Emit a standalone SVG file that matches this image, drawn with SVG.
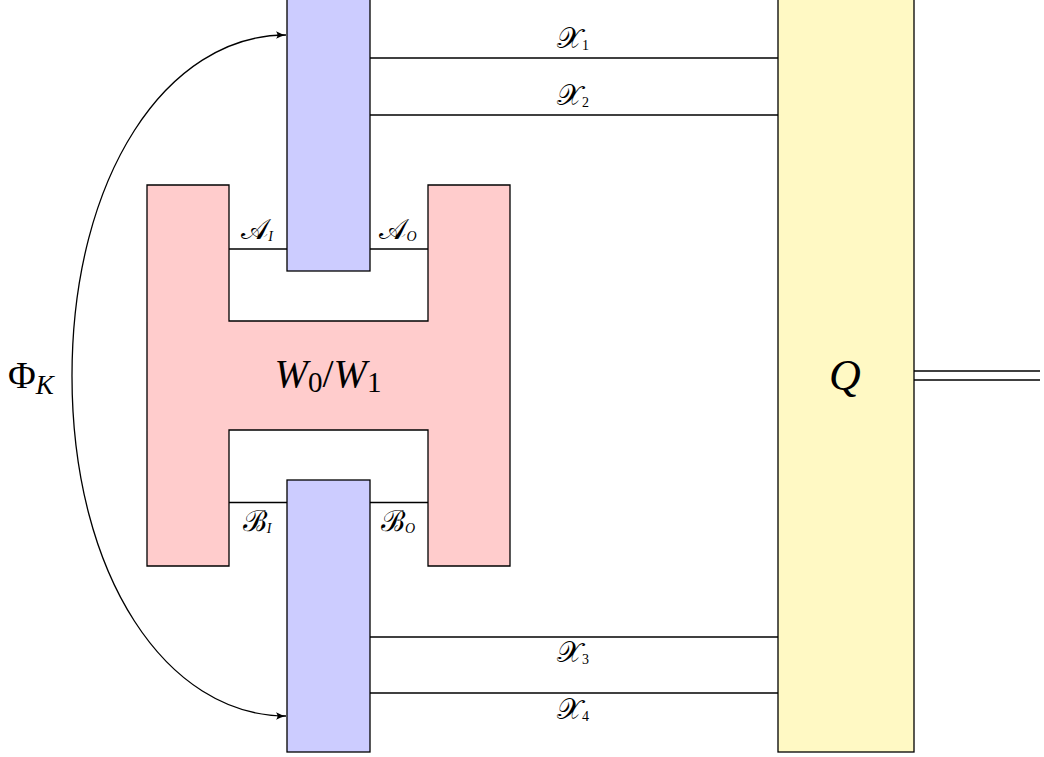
<svg xmlns="http://www.w3.org/2000/svg" width="1044" height="757" viewBox="0 0 1044 757">
<style>
.box{stroke:#000;stroke-width:1.3}
.ln{stroke:#000;stroke-width:1.3;fill:none}
.t{font-family:'Liberation Serif','DejaVu Serif',serif;fill:#000}
.i{font-style:italic}
.s{font-size:29px}
.sub{font-size:14px}
</style>
<defs>
<marker id="arr" markerWidth="12" markerHeight="10" refX="10" refY="5" orient="auto" markerUnits="userSpaceOnUse">
<path d="M0,1.2 Q5,4 10,5 Q5,6 0,8.8 Q3,5 0,1.2 Z" fill="#000"/>
</marker>
</defs>
<g id="connectors">
<line class="ln" x1="370" y1="58" x2="778" y2="58"/>
<line class="ln" x1="370" y1="115" x2="778" y2="115"/>
<line class="ln" x1="370" y1="637" x2="778" y2="637"/>
<line class="ln" x1="370" y1="693" x2="778" y2="693"/>
<line class="ln" x1="229" y1="249" x2="287" y2="249"/>
<line class="ln" x1="370" y1="249" x2="428" y2="249"/>
<line class="ln" x1="229" y1="502.5" x2="287" y2="502.5"/>
<line class="ln" x1="370" y1="502.5" x2="428" y2="502.5"/>
<line class="ln" x1="914" y1="371" x2="1040" y2="371"/>
<line class="ln" x1="914" y1="380" x2="1040" y2="380"/>
<path class="ln" d="M72,376 C72,176 167,35 286,35" marker-end="url(#arr)"/>
<path class="ln" d="M72,376 C72,576 167,716 286,716" marker-end="url(#arr)"/>
</g>
<g id="W">
<path class="box" fill="#FFCCCC" d="M147,185 H229 V321 H428 V185 H510 V566 H428 V430 H229 V566 H147 Z"/>
<text class="t" x="328" y="387" font-size="40" text-anchor="middle"><tspan class="i">W</tspan><tspan font-size="29" dy="5">0</tspan><tspan dy="-5">/</tspan><tspan class="i">W</tspan><tspan font-size="29" dy="5">1</tspan></text>
</g>
<g id="A">
<rect class="box" fill="#CCCCFF" x="287" y="-2" width="83" height="273"/>
</g>
<g id="B">
<rect class="box" fill="#CCCCFF" x="287" y="480" width="83" height="272"/>
</g>
<g id="Q">
<rect class="box" fill="#FFF9C4" x="778" y="-2" width="136" height="754"/>
<text class="t i" x="845" y="390" font-size="44" text-anchor="middle">Q</text>
</g>
<g id="labels">
<text class="t s" x="573" y="48" text-anchor="middle">𝒳<tspan class="sub" dy="2">1</tspan></text>
<text class="t s" x="573" y="105" text-anchor="middle">𝒳<tspan class="sub" dy="2">2</tspan></text>
<text class="t s" x="573" y="662" text-anchor="middle">𝒳<tspan class="sub" dy="2">3</tspan></text>
<text class="t s" x="573" y="719" text-anchor="middle">𝒳<tspan class="sub" dy="2">4</tspan></text>
<text class="t s" x="257" y="239" text-anchor="middle">𝒜<tspan class="i sub" dy="2">I</tspan></text>
<text class="t s" x="398" y="239" text-anchor="middle">𝒜<tspan class="i sub" dy="2">O</tspan></text>
<text class="t s" x="257" y="531" text-anchor="middle">ℬ<tspan class="i sub" dy="2">I</tspan></text>
<text class="t s" x="398" y="531" text-anchor="middle">ℬ<tspan class="i sub" dy="2">O</tspan></text>
<text class="t" x="8" y="388" font-size="38">Φ<tspan class="i" font-size="27" dy="6">K</tspan></text>
</g>
</svg>
